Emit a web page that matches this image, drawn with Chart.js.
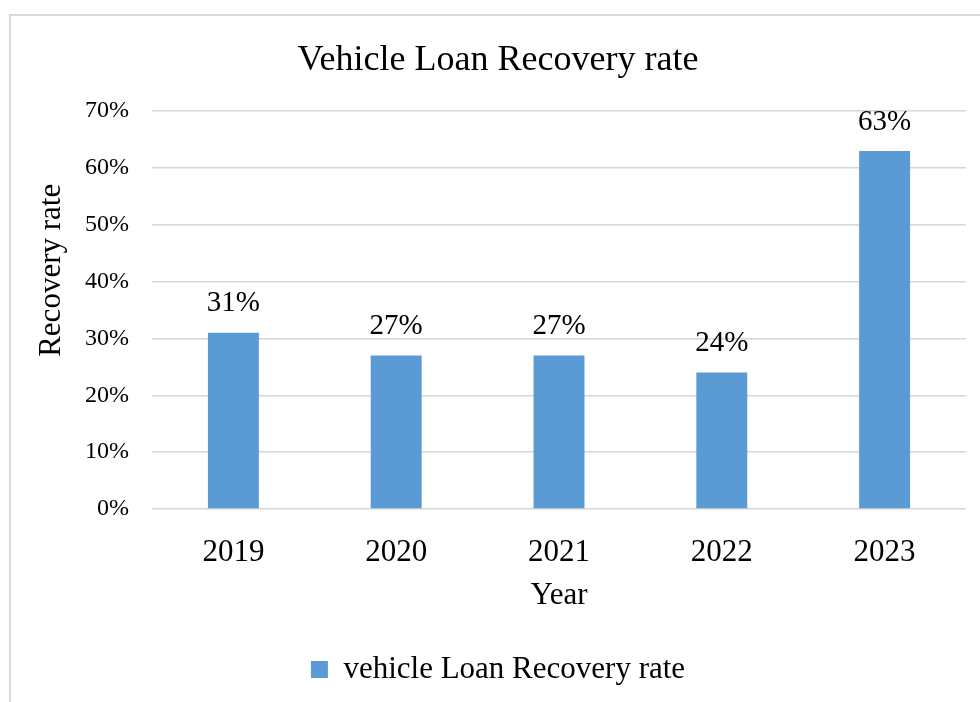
<!DOCTYPE html>
<html lang="en">
<head>
    <meta charset="UTF-8">
    <title>Vehicle Loan Recovery rate</title>
    <script src="https://cdn.jsdelivr.net/npm/chart.js"></script>
    <style>
        html, body { margin: 0; padding: 0; background: #fff; overflow: hidden; }
        .frame { position: absolute; left: 9px; top: 14px; width: 1200px; height: 1000px;
                 border: 2px solid #d9d9d9; }
        #recoveryChart { position: absolute; left: 0; top: 0; }
    </style>
</head>
<body>
    <div class="frame"></div>
    <canvas id="recoveryChart" width="980" height="702"></canvas>

<script>
// Recovery rate per year, in percent
const years = ['2019', '2020', '2021', '2022', '2023'];
const recoveryRates = [31, 27, 27, 24, 63];
const yTicks = [0, 10, 20, 30, 40, 50, 60, 70];

const SERIF = '"Liberation Serif", "Times New Roman", serif';
const BAR_BLUE = '#5b9bd5';
const GRID_GREY = '#d6d6d6';

// value labels above each bar
const barValueLabels = {
    id: 'barValueLabels',
    afterDatasetsDraw(chart) {
        const ctx = chart.ctx;
        const meta = chart.getDatasetMeta(0);
        ctx.save();
        ctx.font = '29px ' + SERIF;
        ctx.fillStyle = '#000';
        ctx.textAlign = 'center';
        ctx.textBaseline = 'middle';
        meta.data.forEach((bar, i) => {
            ctx.fillText(recoveryRates[i] + '%', bar.x, bar.y - 29);
        });
        ctx.restore();
    }
};

// vertical axis title, sits a little above the middle of the plot
const yAxisTitle = {
    id: 'yAxisTitle',
    afterDraw(chart) {
        const ctx = chart.ctx;
        const area = chart.chartArea;
        ctx.save();
        ctx.translate(52, area.top + area.height * 0.4);
        ctx.rotate(-Math.PI / 2);
        ctx.font = '31px ' + SERIF;
        ctx.fillStyle = '#000';
        ctx.textAlign = 'center';
        ctx.textBaseline = 'middle';
        ctx.fillText('Recovery rate', 0, 0);
        ctx.restore();
    }
};

const ctx = document.getElementById('recoveryChart').getContext('2d');
new Chart(ctx, {
    type: 'bar',
    data: {
        labels: years,
        datasets: [{
            label: 'vehicle Loan Recovery rate',
            data: recoveryRates,
            backgroundColor: BAR_BLUE,
            borderWidth: 0,
            categoryPercentage: 1.0,
            barPercentage: 0.313
        }]
    },
    options: {
        responsive: false,
        animation: false,
        layout: { padding: { left: 30, right: 14, top: 0, bottom: 7 } },
        plugins: {
            title: {
                display: true,
                text: 'Vehicle Loan Recovery rate',
                color: '#000',
                font: { family: SERIF, size: 36, weight: 'normal' },
                padding: { top: 39, bottom: 29 }
            },
            legend: {
                display: true,
                position: 'bottom',
                labels: {
                    color: '#000',
                    font: { family: SERIF, size: 31 },
                    boxWidth: 17,
                    boxHeight: 17,
                    padding: 10
                }
            },
            tooltip: { enabled: false }
        },
        scales: {
            x: {
                afterFit: (scale) => { scale.height = 135; },
                grid: { display: false },
                border: { display: false },
                ticks: {
                    color: '#000',
                    font: { family: SERIF, size: 31 },
                    padding: 17
                },
                title: {
                    display: true,
                    text: 'Year',
                    color: '#000',
                    font: { family: SERIF, size: 31 },
                    padding: { top: 0, bottom: 30 }
                }
            },
            y: {
                min: 0,
                max: 70,
                afterFit: (scale) => { scale.width = 122; },
                afterBuildTicks: (scale) => { scale.ticks = yTicks.map(v => ({ value: v })); },
                grid: { color: GRID_GREY, lineWidth: 1.5, drawTicks: false },
                border: { display: false },
                ticks: {
                    color: '#000',
                    font: { family: SERIF, size: 24 },
                    padding: 23,
                    callback: (v) => v + '%'
                }
            }
        }
    },
    plugins: [barValueLabels, yAxisTitle]
});
</script>
</body>
</html>
